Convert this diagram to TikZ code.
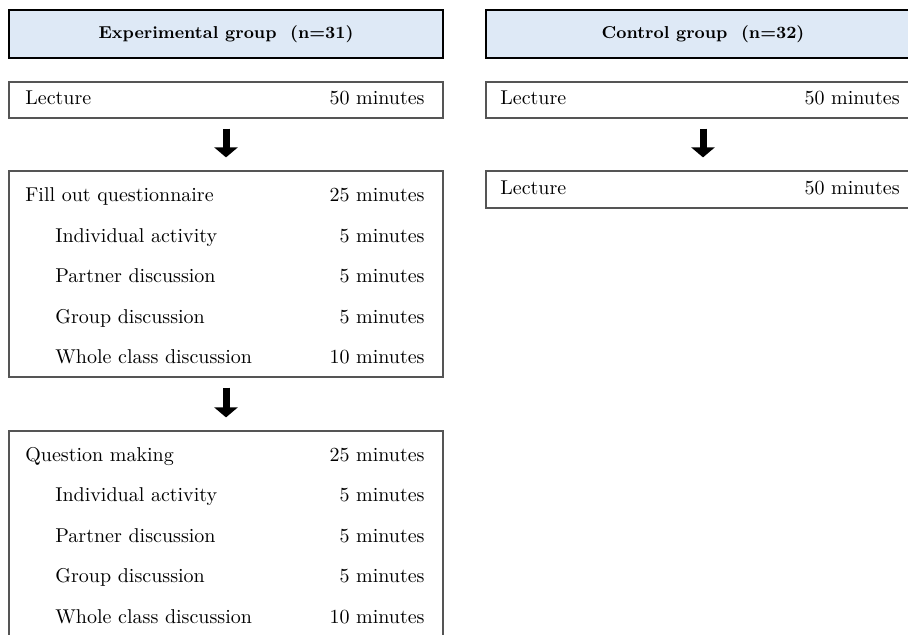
\documentclass[tikz,border=0pt]{standalone}
\usetikzlibrary{arrows.meta}

\definecolor{headblue}{RGB}{222,233,246}
\definecolor{boxgray}{RGB}{85,85,85}

\begin{document}
\begin{tikzpicture}[
  x=0.5pt, y=-0.5pt,
  grouphead/.style={rectangle, draw=black, line width=1pt, fill=headblue, minimum width=217pt, minimum height=24pt, font=\fontsize{8.6}{10}\selectfont\bfseries},
  phase/.style={rectangle, draw=boxgray, line width=0.6pt, minimum width=217pt},
  activity/.style={anchor=west, inner sep=0pt, text height=7pt, text depth=2pt},
  duration/.style={anchor=east, inner sep=0pt, text height=7pt, text depth=2pt},
  bigarrow/.style={line width=3.5pt, -{Triangle[width=11.5pt,length=5pt]}, shorten <=5pt, shorten >=6.5pt}
]
\useasboundingbox (0,0) rectangle (908,635);
\clip (0,0) rectangle (908,635);

% Group headers
\node[grouphead] (expHead) at (226,34) {Experimental group~~(n=31)};
\node[grouphead] (ctrlHead) at (703,34) {Control group~~(n=32)};

% Experimental group: lecture
\node[phase, minimum height=18pt] (expLec) at (226,100) {};
\node[activity] (expLecName) at (25,100) {Lecture};
\node[duration] (expLecTime) at (425,100) {50 minutes};

% Experimental group: questionnaire
\node[phase, minimum height=103pt] (expFill) at (226,274) {};
\node[activity] (expFillName) at (25,197) {Fill out questionnaire};
\node[duration] (expFillTime) at (425,197) {25 minutes};

% Experimental group: question making
\node[phase, minimum height=103pt] (expQues) at (226,534) {};
\node[activity] (expQuesName) at (25,456) {Question making};
\node[duration] (expQuesTime) at (425,456) {25 minutes};

% Steps inside both activity boxes
\foreach \act/\mins [count=\i] in {Individual activity/5, Partner discussion/5, Group discussion/5, Whole class discussion/10} {
  \node[activity] (fillAct\i) at (55,197+40.5*\i) {\act};
  \node[duration] (fillTime\i) at (425,197+40.5*\i) {\mins{} minutes};
  \node[activity] (quesAct\i) at (55,456+40.5*\i) {\act};
  \node[duration] (quesTime\i) at (425,456+40.5*\i) {\mins{} minutes};
}

% Control group: two lectures
\node[phase, minimum height=18pt] (ctrlLecA) at (703,100) {};
\node[activity] (ctrlLecAName) at (500,100) {Lecture};
\node[duration] (ctrlLecATime) at (900,100) {50 minutes};

\node[phase, minimum height=18.5pt] (ctrlLecB) at (703,189.5) {};
\node[activity] (ctrlLecBName) at (500,189.5) {Lecture};
\node[duration] (ctrlLecBTime) at (900,189.5) {50 minutes};

% Arrows
\draw[bigarrow] (expLec) -- (expFill);
\draw[bigarrow] (expFill) -- (expQues);
\draw[bigarrow] (ctrlLecA) -- (ctrlLecB);

\end{tikzpicture}
\end{document}
